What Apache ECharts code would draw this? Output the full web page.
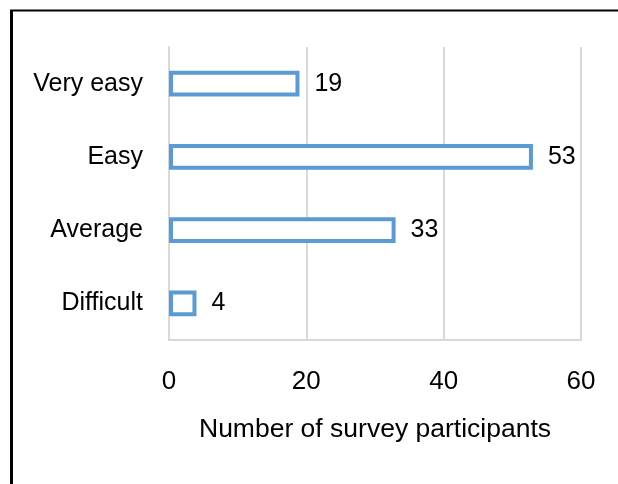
<!DOCTYPE html>
<html>
<head>
<meta charset="utf-8">
<script src="https://cdn.jsdelivr.net/npm/echarts@6/dist/echarts.min.js"></script>
<style>
html,body{margin:0;padding:0;background:#fff;}
#chart{width:618px;height:484px;}
</style>
</head>
<body>
<div id="chart"></div>
<script>
var categories = ['Very easy', 'Easy', 'Average', 'Difficult'];
var participants = [19, 53, 33, 4];
var xTicks = [0, 20, 40, 60];
var xAxisTitle = 'Number of survey participants';

var chart = echarts.init(document.getElementById('chart'), null, {renderer: 'canvas'});
var font = '"Liberation Sans", Arial, sans-serif';
chart.setOption({
  animation: false,
  backgroundColor: '#ffffff',
  grid: {left: 169, right: 37, top: 47, bottom: 144, containLabel: false},
  xAxis: {
    type: 'value',
    min: xTicks[0],
    max: xTicks[xTicks.length - 1],
    interval: xTicks[1] - xTicks[0],
    name: xAxisTitle,
    nameLocation: 'middle',
    nameGap: 76,
    nameTextStyle: {fontFamily: font, fontSize: 26.5, color: '#000'},
    axisLine: {show: true, lineStyle: {color: '#d9d9d9', width: 2}},
    axisTick: {show: false},
    axisLabel: {fontFamily: font, fontSize: 26, color: '#000', margin: 29},
    splitLine: {show: true, lineStyle: {color: '#d9d9d9', width: 2}}
  },
  yAxis: {
    type: 'category',
    data: categories,
    inverse: true,
    axisLine: {show: true, lineStyle: {color: '#d9d9d9', width: 2}},
    axisTick: {show: false},
    axisLabel: {fontFamily: font, fontSize: 25, color: '#000', margin: 26}
  },
  series: [{
    type: 'bar',
    data: participants,
    barWidth: '35%',
    itemStyle: {color: '#ffffff', borderColor: '#5B9BD5', borderWidth: 4},
    label: {show: true, position: 'right', distance: 15, fontFamily: font, fontSize: 25, color: '#000'}
  }],
  graphic: [
    {type: 'line', shape: {x1: 10, y1: 10.5, x2: 618, y2: 10.5}, style: {stroke: '#000', lineWidth: 2}},
    {type: 'line', shape: {x1: 11.5, y1: 10, x2: 11.5, y2: 484}, style: {stroke: '#000', lineWidth: 3}}
  ]
});
</script>
</body>
</html>
